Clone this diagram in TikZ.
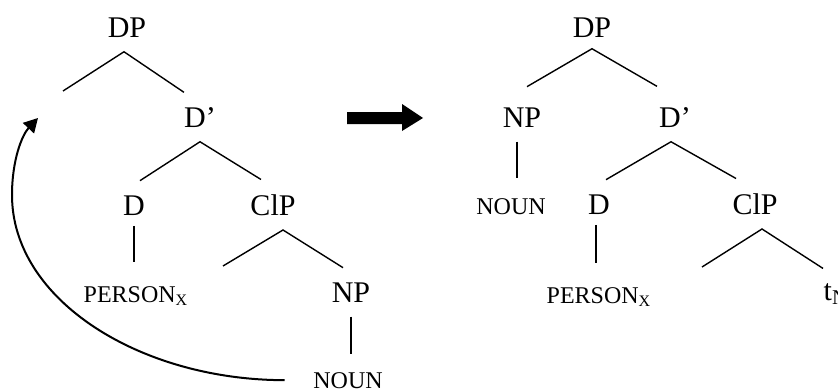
\documentclass[tikz,border=0pt]{standalone}
\usepackage{fontspec}
\setmainfont{Liberation Serif}
\usetikzlibrary{arrows.meta}
\newcommand{\ix}[1]{\textsubscript{#1}}

\begin{document}
\begin{tikzpicture}[x=.5pt, y=-.5pt, line width=.7pt,
    cat/.style={font=\fontsize{15}{18}\selectfont, anchor=base, inner xsep=0pt, inner ysep=7pt},
    lex/.style={font=\fontsize{12}{14}\selectfont, anchor=base, inner xsep=0pt, inner ysep=9.5pt}]
    \useasboundingbox (0, 0) rectangle (838, 391);
    \clip (0, 0) rectangle (838, 391);
    % before movement
    \node[cat] (dp) at (127, 37) {DP};
    \node[cat] (dbar) at (200, 127) {D'};
    \node[cat] (d) at (134, 215) {D};
    \node[cat] (clp) at (273, 215) {ClP};
    \node[lex, anchor=base west] (person) at (83, 302) {PERSON\ix{X}};
    \node[cat] (np) at (351, 302) {NP};
    \node[lex] (noun) at (348, 388) {NOUN};
    \coordinate (spec) at (63, 91);
    \coordinate (cl) at (223, 266);
    \coordinate (land) at (38, 118);
    \draw (spec) -- ([xshift=-1.5pt]dp.south) -- ([xshift=-8pt]dbar.north);
    \draw ([xshift=3pt]d.north) -- (dbar.south) -- ([xshift=-6pt]clp.north);
    \draw (cl) -- ([xshift=5pt]clp.south) -- ([xshift=-4pt]np.north);
    \draw ([yshift=2pt]d.south) -- ([yshift=2pt]d.south |- person.north);
    \draw (np.south) -- ([yshift=-1pt]np.south |- noun.north);
    \draw[-{Triangle[length=7pt, width=7.5pt]}, line width=1pt] ([xshift=-14pt]noun.west)
        .. controls (140, 380) and (12, 300) .. (12, 195)
        .. controls (12, 160) and (22, 135) .. (land);
    \fill (347, 112) -- (402, 112) -- (402, 104) -- (423, 118) -- (402, 131) -- (402, 124) -- (347, 124) -- cycle;
    % after movement
    \node[cat] (dp2) at (592, 37) {DP};
    \node[cat] (np2) at (522, 127) {NP};
    \node[cat] (dbar2) at (675, 127) {D'};
    \node[lex] (noun2) at (511, 214) {NOUN};
    \node[cat] (d2) at (599, 214) {D};
    \node[cat] (clp2) at (755, 214) {ClP};
    \node[lex, anchor=base west] (person2) at (546, 303) {PERSON\ix{X}};
    \node[cat, anchor=base west] (trace) at (823, 300) {t\ix{N}};
    \coordinate (cl2) at (702, 267);
    \draw ([shift={(2.5pt,3pt)}]np2.north) -- ([yshift=1.5pt]dp2.south) -- ([shift={(-9pt,3pt)}]dbar2.north);
    \draw ([xshift=3.5pt]d2.north) -- ([xshift=-2pt]dbar2.south) -- ([xshift=-9.5pt]clp2.north);
    \draw (cl2) -- ([xshift=3.5pt]clp2.south) -- (trace.north west);
    \draw ([xshift=-2.5pt]np2.south) -- ([xshift=-2.5pt]np2.south |- noun2.north);
    \draw ([shift={(-1.5pt,2pt)}]d2.south) -- ([shift={(-1.5pt,2pt)}]d2.south |- person2.north);
\end{tikzpicture}
\end{document}
